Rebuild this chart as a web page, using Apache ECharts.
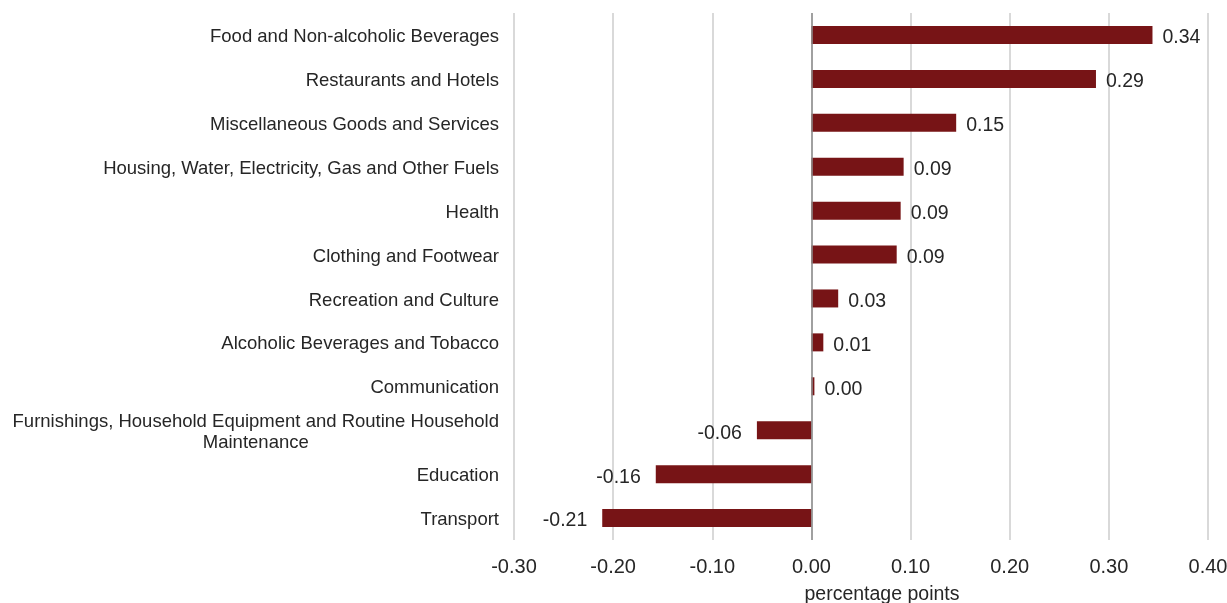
<!DOCTYPE html>
<html>
<head>
<meta charset="utf-8">
<script src="https://cdn.jsdelivr.net/npm/echarts@6/dist/echarts.min.js"></script>
<style>
  html, body { margin: 0; padding: 0; background: #fff; }
  #chart { width: 1227px; height: 603px; }
</style>
</head>
<body>
<div id="chart"></div>
<script>
var categories = [
  'Food and Non-alcoholic Beverages',
  'Restaurants and Hotels',
  'Miscellaneous Goods and Services',
  'Housing, Water, Electricity, Gas and Other Fuels',
  'Health',
  'Clothing and Footwear',
  'Recreation and Culture',
  'Alcoholic Beverages and Tobacco',
  'Communication',
  'Furnishings, Household Equipment and Routine Household\nMaintenance',
  'Education',
  'Transport'
];
var contributions = [0.344, 0.287, 0.146, 0.093, 0.090, 0.086, 0.027, 0.012, 0.003, -0.055, -0.157, -0.211];
var xTicks = { min: -0.3, max: 0.4, step: 0.1 };

var chart = echarts.init(document.getElementById('chart'));

var font = 'Liberation Sans, Arial, sans-serif';
var textColor = '#262626';

var option = {
  animation: false,
  grid: {
    left: 514,
    right: 19,
    top: 13,
    bottom: 63,
    containLabel: false,
    outerBoundsMode: 'none'
  },
  xAxis: {
    type: 'value',
    min: xTicks.min,
    max: xTicks.max,
    interval: xTicks.step,
    axisLine: { show: false },
    axisTick: { show: false },
    splitLine: {
      lineStyle: { color: '#d9d9d9', width: 2 }
    },
    axisLabel: {
      margin: 17,
      fontFamily: font,
      fontSize: 20,
      color: textColor,
      formatter: function (v) { return v.toFixed(2); }
    },
    name: 'percentage points',
    nameLocation: 'middle',
    nameGap: 45,
    nameTextStyle: {
      fontFamily: font,
      fontSize: 19.5,
      color: textColor,
      padding: [0, 0, 0, 42]
    }
  },
  yAxis: {
    type: 'category',
    inverse: true,
    data: categories,
    axisLine: { show: false, onZero: false },
    axisTick: { show: false },
    axisLabel: {
      margin: 15,
      fontFamily: font,
      fontSize: 18.5,
      color: textColor,
      lineHeight: 21,
      padding: [4, 0, 0, 0],
      formatter: function (v) {
        if (v.indexOf('\n') < 0) return v;
        var parts = v.split('\n');
        return '{a|' + parts[0] + '}\n{b|' + parts[1] + '}';
      },
      rich: {
        a: { fontFamily: font, fontSize: 18.5, color: textColor, lineHeight: 21 },
        b: { fontFamily: font, fontSize: 18.5, color: textColor, lineHeight: 21, align: 'center' }
      }
    }
  },
  series: [
    {
      type: 'bar',
      data: contributions,
      barWidth: 18,
      itemStyle: { color: '#771416' },
      label: {
        show: true,
        position: 'right',
        distance: 10,
        offset: [0, 3],
        fontFamily: font,
        fontSize: 19.5,
        color: textColor,
        formatter: function (p) { return p.value.toFixed(2); }
      },
      markLine: {
        silent: true,
        symbol: 'none',
        label: { show: false },
        lineStyle: { color: '#8c8c8c', width: 1.5, type: 'solid' },
        data: [{ xAxis: 0 }]
      }
    }
  ]
};

// negative bars: label on the left side
option.series[0].data = contributions.map(function (v) {
  return v < 0 ? { value: v, label: { position: 'left', distance: 15 } } : v;
});

chart.setOption(option);
</script>
</body>
</html>
